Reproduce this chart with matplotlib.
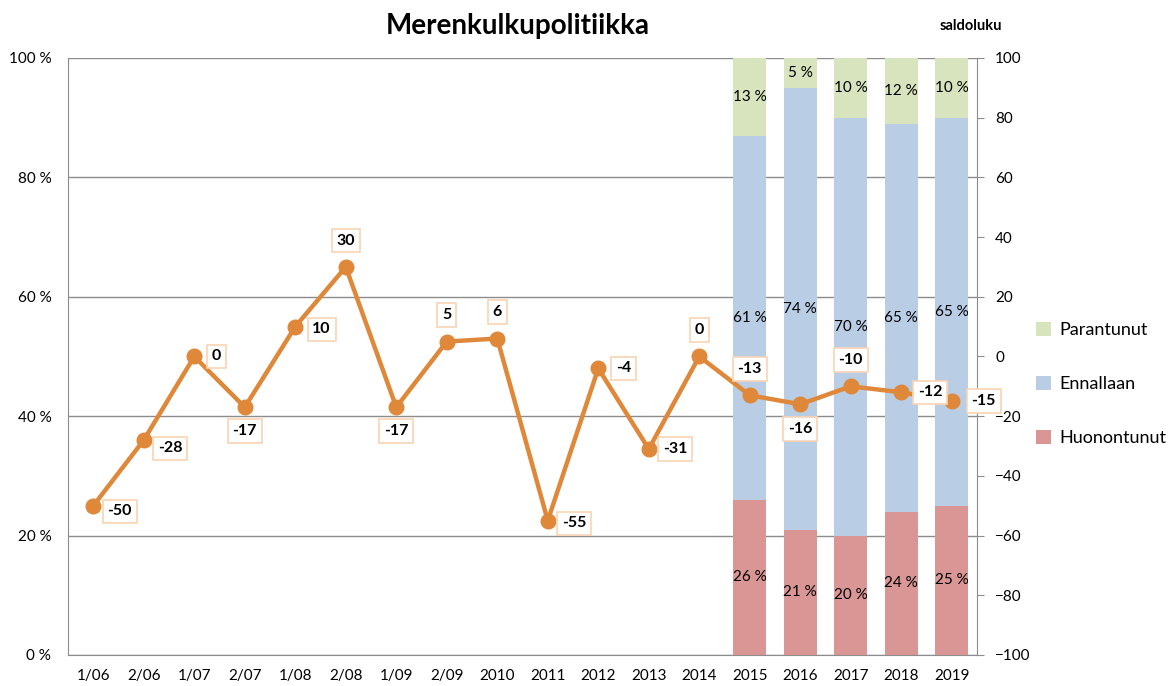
import matplotlib.pyplot as plt
import numpy as np

plt.rcParams['font.family'] = ['Lato', 'DejaVu Sans']

periods = ['1/06', '2/06', '1/07', '2/07', '1/08', '2/08', '1/09', '2/09', '2010',
           '2011', '2012', '2013', '2014', '2015', '2016', '2017', '2018', '2019']
saldo = [-50, -28, 0, -17, 10, 30, -17, 5, 6, -55, -4, -31, 0, -13, -16, -10, -12, -15]

bar_years = ['2015', '2016', '2017', '2018', '2019']
huonontunut = [26, 21, 20, 24, 25]
ennallaan = [61, 74, 70, 65, 65]
parantunut = [13, 5, 10, 12, 10]

# label placement for the saldo points (dx, dy in points)
label_pos = {0: (19, -4), 1: (19, -6), 2: (16, 0), 3: (0, -17), 4: (19, -2), 5: (0, 19),
             6: (0, -17), 7: (0, 19), 8: (0, 19), 9: (19, -2), 10: (18, 0), 11: (19, 0),
             12: (0, 19), 13: (0, 19), 14: (0, -18), 15: (0, 19), 16: (21, 0), 17: (23, 0)}

c_green = '#d7e4bd'
c_blue = '#b9cde5'
c_red = '#d99694'
c_line = '#e0883a'

fig = plt.figure(figsize=(11.75, 6.86), dpi=100)
ax = fig.add_axes([0.0579, 0.0452, 0.7736, 0.8703])
x = np.arange(len(periods))
ax.set_xlim(-0.5, len(periods) - 0.5)
ax.set_ylim(0, 100)
ax.set_yticks(range(0, 101, 20))
ax.set_yticklabels(['%d %%' % v for v in range(0, 101, 20)], fontsize=11)
ax.set_xticks(x)
ax.set_xticklabels(periods, fontsize=11)
ax.tick_params(axis='x', length=0, pad=10)
ax.tick_params(axis='y', length=0, pad=12)
ax.grid(axis='y', color='#8c8c8c', linewidth=1)
ax.set_axisbelow(True)
ax.spines['top'].set_visible(False)
for s in ['left', 'bottom', 'right']:
    ax.spines[s].set_color('#8c8c8c')

bx = np.array([periods.index(y) for y in bar_years])
w = 0.65
b1 = ax.bar(bx, huonontunut, w, color=c_red, label='Huonontunut')
b2 = ax.bar(bx, ennallaan, w, bottom=huonontunut, color=c_blue, label='Ennallaan')
bot3 = np.array(huonontunut) + np.array(ennallaan)
b3 = ax.bar(bx, parantunut, w, bottom=bot3, color=c_green, label='Parantunut')

for i in range(len(bx)):
    ax.text(bx[i], huonontunut[i] / 2, '%d %%' % huonontunut[i], ha='center', va='center', fontsize=11)
    ax.text(bx[i], huonontunut[i] + ennallaan[i] / 2, '%d %%' % ennallaan[i], ha='center', va='center', fontsize=11)
    top = min(bot3[i] + parantunut[i], 100)
    ax.text(bx[i], (bot3[i] + top) / 2, '%d %%' % parantunut[i], ha='center', va='center', fontsize=11)

ax2 = ax.twinx()
ax2.set_ylim(-100, 100)
ax2.set_yticks(range(-100, 101, 20))
ax2.tick_params(axis='y', labelsize=11, color='#8c8c8c', length=5, pad=8)
for s in ['top', 'left', 'bottom', 'right']:
    ax2.spines[s].set_visible(False)
ax2.plot(x, saldo, color=c_line, linewidth=3.2, marker='o', markersize=10.5)
for i, v in enumerate(saldo):
    dx, dy = label_pos[i]
    ax2.annotate(str(v), (x[i], v), xytext=(dx, dy), textcoords='offset points',
                 ha='center', va='center', fontsize=11.5, fontweight='bold',
                 bbox=dict(boxstyle='square,pad=0.3', fc='white', ec='#fbd4b4', lw=1.2))

fig.text(0.441, 0.962, 'Merenkulkupolitiikka', ha='center', va='center', fontsize=20, fontweight='bold')
fig.text(0.826, 0.962, 'saldoluku', ha='center', va='center', fontsize=10.5, fontweight='bold')

leg = fig.legend(handles=[b3, b2, b1], loc='center left', bbox_to_anchor=(0.868, 0.44),
                 frameon=False, fontsize=13, handlelength=0.8, handleheight=0.8,
                 labelspacing=2.1, handletextpad=0.5)

fig.savefig('out.png', dpi=100)
